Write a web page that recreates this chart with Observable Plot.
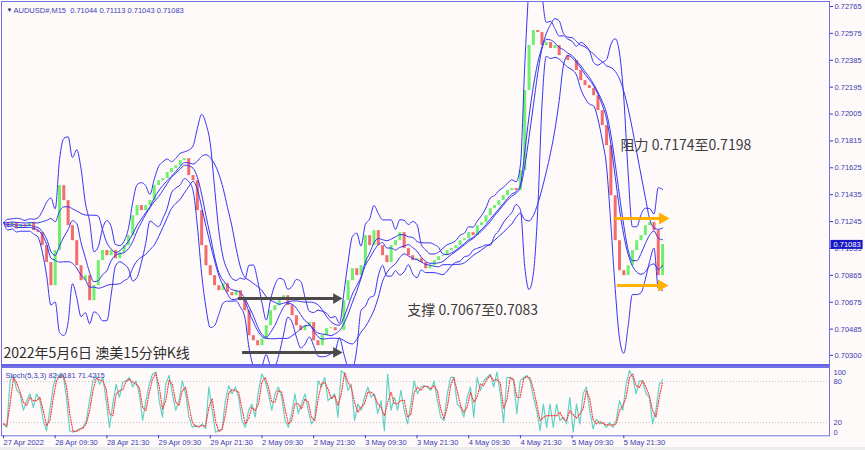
<!DOCTYPE html>
<html><head><meta charset="utf-8">
<script src="https://cdn.jsdelivr.net/npm/d3@7"></script>
<script src="https://cdn.jsdelivr.net/npm/@observablehq/plot@0.6"></script>
<style>
html,body{margin:0;padding:0;background:#fffafa;}
#wrap{position:relative;width:865px;height:450px;background:#fffafa;overflow:hidden;}
#main{position:absolute;left:0;top:0;}
#stoch{position:absolute;left:0;top:366px;}
#sep{position:absolute;left:1px;top:364px;width:829px;height:2px;background:#6464e4;}
#strip{position:absolute;left:0;top:447px;width:865px;height:3px;background:#ececec;}
</style></head><body>
<div id="wrap"><div id="main"></div><div id="stoch"></div><div id="sep"></div><div id="strip"></div></div>
<script>
// ---- data ----
const symbolHeader = "AUDUSD#,M15  0.71044 0.71113 0.71043 0.71083";
const barsPerCandle = 4; // each sample = 4 M15 bars
const closes = [
0.71238,0.71209,0.71238,0.71195,0.71223,0.71209,0.71238,0.71181,0.71167,0.71075,
0.70955,0.70792,0.71040,0.71499,0.71393,0.71216,0.71110,0.70933,0.70827,0.70863,
0.70686,0.70792,0.70969,0.71040,0.71004,0.71040,0.70983,0.71025,0.71075,0.71146,
0.71287,0.71358,0.71322,0.71358,0.71393,0.71499,0.71534,0.71549,0.71591,0.71619,
0.71640,0.71676,0.71690,0.71570,0.71534,0.71322,0.71075,0.70933,0.70863,0.70792,
0.70757,0.70806,0.70743,0.70721,0.70757,0.70686,0.70615,0.70439,0.70403,0.70368,
0.70417,0.70509,0.70615,0.70651,0.70700,0.70721,0.70651,0.70580,0.70509,0.70474,
0.70509,0.70531,0.70403,0.70368,0.70439,0.70488,0.70495,0.70474,0.70474,0.70686,
0.70827,0.70912,0.70863,0.70933,0.71146,0.71075,0.71181,0.71075,0.71004,0.70955,
0.71075,0.71110,0.71167,0.71054,0.71004,0.70969,0.70983,0.70955,0.70912,0.70933,
0.70969,0.70997,0.71004,0.71040,0.71054,0.71075,0.71110,0.71124,0.71167,0.71146,
0.71216,0.71238,0.71287,0.71336,0.71358,0.71393,0.71428,0.71464,0.71478,0.71464,
0.71605,0.72171,0.72489,0.72595,0.72581,0.72489,0.72510,0.72468,0.72489,0.72418,
0.72418,0.72383,0.72383,0.72312,0.72241,0.72206,0.72185,0.72135,0.72029,0.71923,
0.71782,0.71428,0.71110,0.70898,0.70863,0.70933,0.71040,0.71110,0.71146,0.71216,
0.71238,0.71181,0.70863,0.71083];
const priceTicks = [0.72765,0.72575,0.72385,0.72195,0.72005,0.71815,0.71625,0.71435,0.71245,0.71055,0.70865,0.70675,0.70485,0.70300];
const dateLabels = ["27 Apr 2022","28 Apr 09:30","28 Apr 21:30","29 Apr 09:30","29 Apr 21:30","2 May 09:30","2 May 21:30","3 May 09:30","3 May 21:30","4 May 09:30","4 May 21:30","5 May 09:30","5 May 21:30"];
const dateTickBars = [0,48,96,144,192,240,288,336,384,432,480,528,576];
const stochTitle = "Stoch(5,3,3) 82.6181 71.4215";
const stochMain = [
18,13,82,89,67,62,38,52,62,42,62,52,23,8,38,72,91,86,91,57,
8,6,8,11,13,23,52,81,89,76,86,52,13,47,76,57,79,81,86,72,
81,62,23,52,76,91,94,52,28,76,89,62,38,52,81,62,28,13,16,13,
18,11,72,38,6,8,11,52,74,62,72,57,23,13,38,47,28,67,91,81,
62,38,62,72,57,23,13,33,62,33,47,62,38,18,28,81,72,86,52,57,
62,28,96,91,67,76,23,47,38,57,72,57,62,33,52,8,91,38,57,38,
67,38,18,47,81,62,72,74,72,
67,81,52,28,23,62,86,86,47,42,28,57,72,28,86,67,81,86,91,72,
94,62,20,86,86,81,33,81,86,89,81,57,38,8,47,13,47,13,47,23,
28,18,57,6,47,18,62,72,38,11,25,18,20,13,20,13,23,52,38,76,
96,86,62,81,81,62,57,18,38,76,82.6];
const stochLevels = [20, 80];
const noteText = ["支撑 0.7067至0.7083", "阻力 0.7174至0.7198"];
const noteBar = [375, 573];
const notePrice = [0.70617, 0.71783];
const titleText = "2022年5月6日 澳美15分钟K线";
const blackArrowFrom = [218, 222], blackArrowTo = [309, 309], blackArrowPrice = [0.70701, 0.70320];
const orangeArrowFrom = [568, 570], orangeArrowTo = [612, 611], orangeArrowPrice = [0.71267, 0.70793];

// ---- derived ----
const candles = closes.map((c, i) => ({bar: i * barsPerCandle, open: i ? closes[i - 1] : c, close: c}));
function bands(n, k) {
  return closes.map((c, i) => {
    const w = closes.slice(Math.max(0, i - n + 1), i + 1);
    const m = d3.mean(w);
    const sd = Math.sqrt(d3.mean(w, v => (v - m) ** 2));
    return {bar: i * barsPerCandle, mid: m, up: m + k * sd, lo: m - k * sd};
  });
}
const bbOuter = bands(5, 2.6);
const bbInner = bands(10, 1.0);
const lastBar = (closes.length - 1) * barsPerCandle;
const stochData = stochMain.map((v, j) => ({bar: j * lastBar / (stochMain.length - 1), v}));

const X = {domain: [-1.86, 767], range: [1, 829], axis: null};
const BLUE = "#3434f2", AX = "#3a3ab0", FONT = "Liberation Sans, Arial, sans-serif";
const CJK = "Noto Sans CJK SC, sans-serif";
const idx2 = [0, 1];

const main = Plot.plot({
  width: 865, height: 367,
  marginLeft: 1, marginRight: 36, marginTop: 1, marginBottom: 1,
  style: {background: "transparent", color: AX, fontFamily: FONT, fontSize: "7.5px", overflow: "visible"},
  x: X,
  y: {domain: [0.70300, 0.72765], range: [354.8, 6], axis: null},
  marks: [
    Plot.ruleX(candles.filter(d => d.close >= d.open), {x: "bar", y1: "open", y2: "close", stroke: "#6ef06e", strokeWidth: 3, clip: true}),
    Plot.ruleX(candles.filter(d => d.close < d.open), {x: "bar", y1: "open", y2: "close", stroke: "#f26c6c", strokeWidth: 3, clip: true}),
    Plot.line(bbOuter, {x: "bar", y: "up", stroke: BLUE, strokeWidth: 1, curve: "monotone-x", clip: true}),
    Plot.line(bbOuter, {x: "bar", y: "lo", stroke: BLUE, strokeWidth: 1, curve: "monotone-x", clip: true}),
    Plot.line(bbOuter, {x: "bar", y: "mid", stroke: BLUE, strokeWidth: 1, curve: "monotone-x", clip: true}),
    Plot.line(bbInner, {x: "bar", y: "up", stroke: BLUE, strokeWidth: 1, curve: "monotone-x", clip: true}),
    Plot.line(bbInner, {x: "bar", y: "lo", stroke: BLUE, strokeWidth: 1, curve: "monotone-x", clip: true}),
    Plot.ruleY(idx2, {x1: i => blackArrowFrom[i], x2: i => blackArrowTo[i], y: i => blackArrowPrice[i], stroke: "#4a4a4a", strokeWidth: 3}),
    Plot.dot(idx2, {x: i => blackArrowTo[i], y: i => blackArrowPrice[i], symbol: "triangle", rotate: 90, r: 4, fill: "#4a4a4a"}),
    Plot.ruleY(idx2, {x1: i => orangeArrowFrom[i], x2: i => orangeArrowTo[i], y: i => orangeArrowPrice[i], stroke: "#ffb000", strokeWidth: 3}),
    Plot.dot(idx2, {x: i => orangeArrowTo[i], y: i => orangeArrowPrice[i], symbol: "triangle", rotate: 90, r: 4.5, fill: "#ffb000"}),
    Plot.text(noteText, {x: (d, i) => noteBar[i], y: (d, i) => notePrice[i], text: d => d, textAnchor: "start", fontSize: 14, fill: "#3c3c3c", fontFamily: CJK}),
    Plot.text([titleText], {frameAnchor: "bottom-left", dx: 2, dy: -9, textAnchor: "start", fontSize: 14, fill: "#2e2e2e", fontFamily: CJK}),
    Plot.frame({stroke: "#7272e6"}),
    Plot.axisY(priceTicks, {anchor: "right", label: null, tickSize: 3, tickPadding: 2, tickFormat: d => d.toFixed(5), fontSize: 7.5}),
    Plot.text([closes[closes.length - 1]], {y: d => d, frameAnchor: "right", dx: 4, textAnchor: "start", text: d => d.toFixed(5), fill: "white", fontSize: 7.5, className: "lastlabel"}),
    Plot.text(["▼"], {frameAnchor: "top-left", dx: 5, dy: 6, fontSize: 6, fill: "#1c1c80"}),
    Plot.text([symbolHeader], {frameAnchor: "top-left", dx: 12, dy: 6, textAnchor: "start", fontSize: 7.5, fill: "#3a3ab8"})
  ]
});
document.getElementById("main").appendChild(main);

// background box for the last-price label
{
  const t = main.querySelector(".lastlabel text");
  if (t) {
    const bb = t.getBBox();
    const r = document.createElementNS("http://www.w3.org/2000/svg", "rect");
    r.setAttribute("x", bb.x - 3); r.setAttribute("y", bb.y);
    r.setAttribute("width", bb.width + 5); r.setAttribute("height", bb.height);
    r.setAttribute("fill", "#1818c4");
    if (t.getAttribute("transform")) r.setAttribute("transform", t.getAttribute("transform"));
    t.parentNode.insertBefore(r, t);
  }
}

const stoch = Plot.plot({
  width: 865, height: 84,
  marginLeft: 1, marginRight: 36, marginTop: 1, marginBottom: 14.7,
  style: {background: "transparent", color: AX, fontFamily: FONT, fontSize: "7.5px", overflow: "visible"},
  x: X,
  y: {domain: [0, 100], range: [69.7, 1.4], axis: null},
  marks: [
    Plot.ruleY(stochLevels, {stroke: "#c4c4c4", strokeDasharray: "1,2"}),
    Plot.line(stochData, {x: "bar", y: "v", stroke: "#62d2c6", strokeWidth: 1.2}),
    Plot.line(stochData, Plot.windowY({k: 2, anchor: "end"}, {x: "bar", y: "v", stroke: "#ff3a3a", strokeWidth: 1.2, strokeDasharray: "1,1.6"})),
    Plot.frame({stroke: "#7272e6"}),
    Plot.axisY(stochLevels, {anchor: "right", label: null, tickSize: 0, tickPadding: 4, fontSize: 7.5}),
    Plot.text([100], {y: d => d, frameAnchor: "right", dx: 4, dy: 4.3, textAnchor: "start", text: d => String(d), fontSize: 7.5, fill: AX}),
    Plot.text([0], {y: d => d, frameAnchor: "right", dx: 4, dy: -4, textAnchor: "start", text: d => String(d), fontSize: 7.5, fill: AX}),
    Plot.axisX(dateTickBars, {anchor: "bottom", label: null, tickSize: 3, tickPadding: 1, textAnchor: "start", tickFormat: d => dateLabels[dateTickBars.indexOf(d)], fontSize: 7.5}),
    Plot.text([stochTitle], {frameAnchor: "top-left", dx: 4, dy: 5, textAnchor: "start", fontSize: 7.5, fill: "#3a3ab8"})
  ]
});
document.getElementById("stoch").appendChild(stoch);
</script>
</body></html>
